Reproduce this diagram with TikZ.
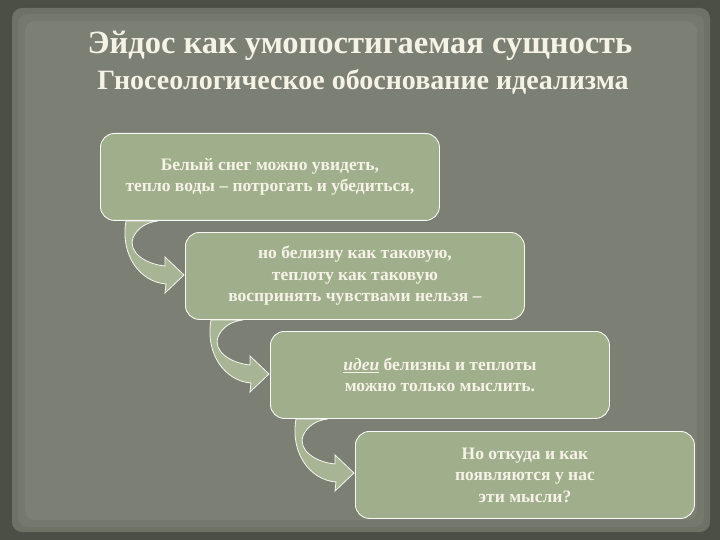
\documentclass[tikz,border=0pt]{standalone}
\usepackage{fontspec}
\setmainfont{Liberation Serif}
\usetikzlibrary{positioning}
\definecolor{frame}{HTML}{4B4F45}
\definecolor{paper}{HTML}{7C7F74}
\definecolor{boxfill}{HTML}{A0AF8B}
\definecolor{arrowfill}{HTML}{A7B594}
\definecolor{txt}{HTML}{F5F2E6}
\tikzset{
  stepbox/.style={draw=white!92!boxfill, line width=0.9pt, fill=boxfill, rounded corners=14pt,
    minimum width=339pt, minimum height=87pt, inner sep=0pt, anchor=north west,
    text=txt, font=\bfseries\fontsize{17.5}{21.5}\selectfont, align=center},
  bentarrow/.style={draw=white!90!boxfill, line width=0.8pt, fill=arrowfill},
}
\begin{document}
\begin{tikzpicture}[x=1pt,y=-1pt]
\useasboundingbox (0,0) rectangle (720,540);
\fill[frame] (0,0) rectangle (720,540);
\fill[paper!70!frame, rounded corners=10pt] (12,8) rectangle (710,532);
\fill[paper!85!frame, rounded corners=10pt] (18,14) rectangle (704,527);
\fill[paper, rounded corners=10pt] (25,21) rectangle (697,520);
% titles
\node[text=txt, font=\bfseries\fontsize{32.5}{36}\selectfont] (t1) at (360,46) {Эйдос как умопостигаемая сущность};
\node[text=txt, font=\bfseries\fontsize{28}{32}\selectfont] (t2) at (363,82) {Гносеологическое обоснование идеализма};
% arrows
\foreach \dx/\dy in {0/0, 85/99, 170/198} {
  \begin{scope}[shift={(\dx,\dy)}]
    \path[bentarrow] (126,221) .. controls (120,255) and (140,282) .. (166,284)
      -- (165,293) -- (184,275) -- (165,257) -- (165,266)
      .. controls (145,264) and (128,252) .. (133,238)
      .. controls (137,228) and (147,222) .. (158,221) -- cycle;
  \end{scope}
}
% boxes
\node[stepbox] (b1) at (100,133) {Белый снег можно увидеть,\\тепло воды – потрогать и убедиться,};
\node[stepbox] (b2) at (185,232) {но белизну как таковую,\\теплоту как таковую\\воспринять чувствами нельзя –};
\node[stepbox] (b3) at (270,331) {\underline{\itshape идеи} белизны и теплоты\\можно только мыслить.};
\node[stepbox] (b4) at (355,431) {Но откуда и как\\появляются у нас\\эти мысли?};
\end{tikzpicture}
\end{document}
